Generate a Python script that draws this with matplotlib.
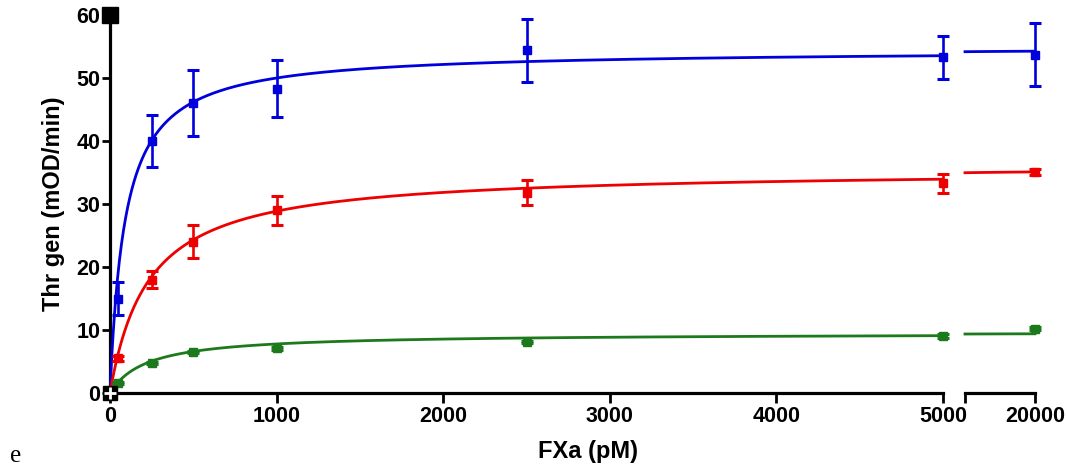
import numpy as np
import matplotlib
matplotlib.use("Agg")
import matplotlib.pyplot as plt

# FXa concentrations (pM)
fxa = [50, 250, 500, 1000, 2500, 5000, 20000]

# Thrombin generation rates (mOD/min), mean and SD
blue_y = [15.0, 40.0, 46.0, 48.3, 54.4, 53.3, 53.7]
blue_err = [2.6, 4.1, 5.2, 4.5, 5.0, 3.4, 5.0]
red_y = [5.5, 18.0, 24.0, 29.0, 31.8, 33.3, 35.1]
red_err = [0.4, 1.3, 2.6, 2.3, 2.0, 1.5, 0.5]
green_y = [1.6, 4.8, 6.5, 7.1, 8.1, 9.05, 10.2]
green_err = [0.15, 0.2, 0.2, 0.25, 0.2, 0.3, 0.2]

# Michaelis-Menten fit parameters (Vmax, Km)
blue_fit = (54.5, 90.0)
red_fit = (35.5, 230.0)
green_fit = (9.5, 220.0)

colors = ["#0000dd", "#ee0000", "#1c7a1c"]
series = [(blue_y, blue_err, blue_fit), (red_y, red_err, red_fit),
          (green_y, green_err, green_fit)]

x_ticks = [0, 1000, 2000, 3000, 4000, 5000]
y_ticks = [0, 10, 20, 30, 40, 50, 60]
right_range = (15000, 20000)

plt.rcParams["font.family"] = ["Liberation Sans", "DejaVu Sans"]
plt.rcParams["font.weight"] = "bold"

fig = plt.figure(figsize=(10.68, 4.69), dpi=100)
ax1 = fig.add_axes([110 / 1068, 1 - 393 / 469, (943 - 110) / 1068, (393 - 15) / 469])
ax2 = fig.add_axes([965 / 1068, 1 - 393 / 469, (1035 - 965) / 1068, (393 - 15) / 469])


def mm(x, vmax, km):
    return vmax * x / (km + x)


xs_left = np.linspace(0, 5000, 800)
xs_right = np.linspace(right_range[0], right_range[1], 50)
fx = np.array(fxa)

for (y, err, (vmax, km)), c in zip(series, colors):
    y = np.array(y)
    err = np.array(err)
    ax1.plot(xs_left, mm(xs_left, vmax, km), color=c, lw=2.0, clip_on=False, zorder=3)
    ax2.plot(xs_right, mm(xs_right, vmax, km), color=c, lw=2.0, clip_on=False, zorder=3)
    left = fx <= 5000
    kw = dict(fmt="s", color=c, ms=5.5, elinewidth=1.9, capsize=4, capthick=2.2,
              clip_on=False, zorder=4)
    ax1.errorbar(fx[left], y[left], yerr=err[left], **kw)
    ax2.errorbar(fx[~left], y[~left], yerr=err[~left], **kw)

for ax in (ax1, ax2):
    ax.set_ylim(0, 60)
    for s in ("top", "right"):
        ax.spines[s].set_visible(False)
    ax.spines["bottom"].set_linewidth(2.3)
    ax.spines["left"].set_linewidth(2.3)
    ax.tick_params(width=2.0, length=7, labelsize=15.5, pad=2)
    ax.patch.set_alpha(0)

ax1.set_xlim(0, 5000)
ax1.set_xticks(x_ticks)
ax1.set_yticks(y_ticks)
ax1.tick_params(axis="y", length=6, pad=1)
ax1.set_ylabel("Thr gen (mOD/min)", fontsize=17, fontweight="bold", labelpad=8)

ax2.set_xlim(*right_range)
ax2.set_xticks([right_range[0], right_range[1]])
ax2.set_xticklabels(["", "20000"])
ax2.spines["left"].set_visible(False)
ax2.set_yticks([])

fig.text(588 / 1068, 1 - 451 / 469, "FXa (pM)", ha="center", va="center",
         fontsize=17, fontweight="bold")

# corner handles on the y axis
ax1.plot([0], [60], marker="s", ms=11, color="black", clip_on=False, zorder=6)
ax1.plot([0], [0], marker="s", ms=10, color="black", clip_on=False, zorder=6)
ax1.plot([0], [0], marker="+", ms=8, mew=2, color="white", clip_on=False, zorder=7)

fig.text(16 / 1068, 1 - 467 / 469, "e", family=["Liberation Serif", "DejaVu Serif"],
         fontsize=18, fontweight="normal", ha="center", va="bottom")

fig.savefig("out.png", dpi=100)
